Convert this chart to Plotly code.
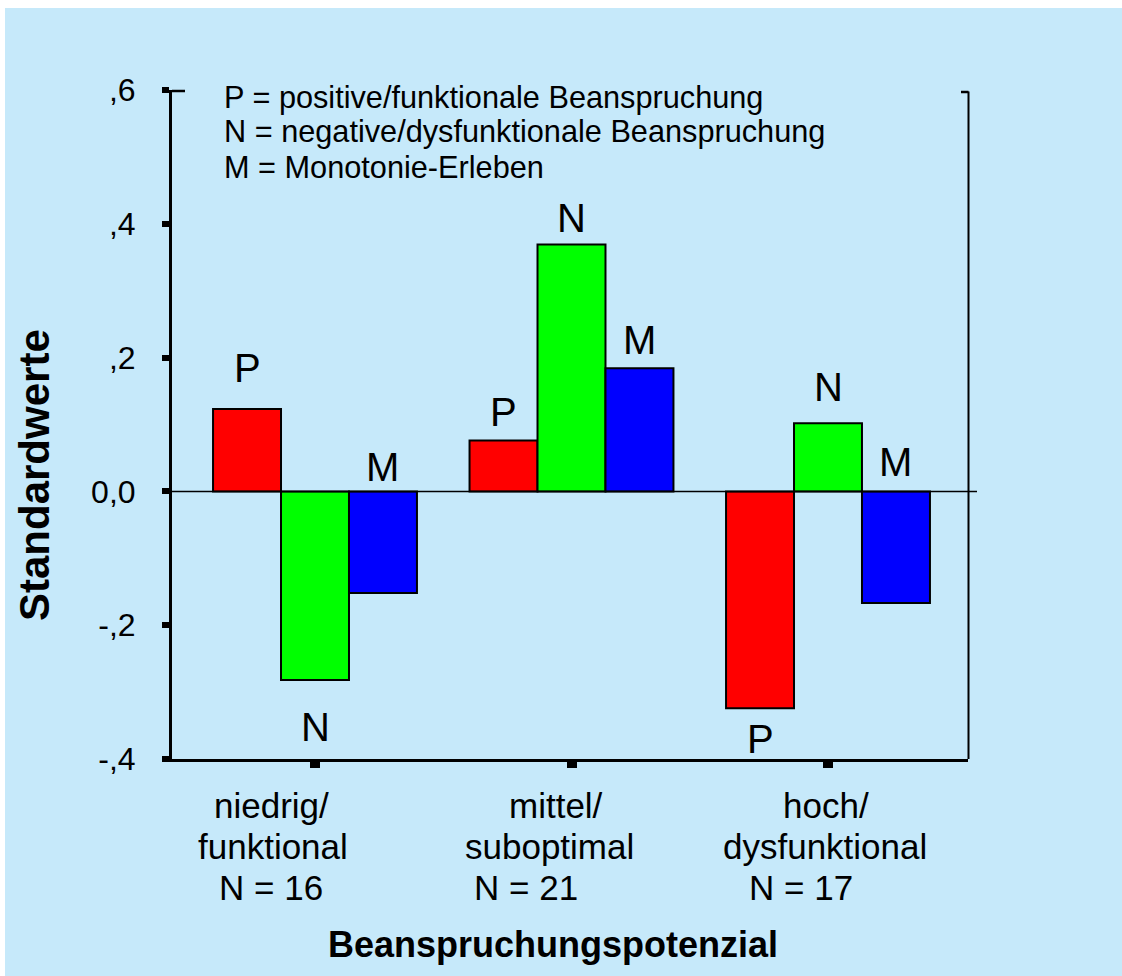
import plotly.graph_objects as go

# ---- data ----
category_lines = [["niedrig/", "funktional", "N = 16"],
                  ["mittel/", "suboptimal", "N = 21"],
                  ["hoch/", "dysfunktional", "N = 17"]]
categories = ["<br>".join(c) for c in category_lines]
series_names = ["P", "N", "M"]
p_values = [0.123, 0.076, -0.324]
n_values = [-0.282, 0.369, 0.102]
m_values = [-0.152, 0.184, -0.167]
y_tickvals = [-0.4, -0.2, 0.0, 0.2, 0.4, 0.6]
y_ticktext = ["-,4", "-,2", "0,0", ",2", ",4", ",6"]
legend_lines = ["P = positive/funktionale Beanspruchung",
                "N = negative/dysfunktionale Beanspruchung",
                "M = Monotonie-Erleben"]
x_title = "Beanspruchungspotenzial"
y_title = "Standardwerte"

# ---- styling ----
FONT = "Arial, Liberation Sans, sans-serif"
colors = ["#ff0000", "#00ff00", "#0000ff"]
bg = "#c6e9fa"
W, H = 1122, 976
# plot area in screen pixels: x 172..968, y 90..759
PL, PR, PT, PB = 172, 968, 90, 759
PW, PH = PR - PL, PB - PT
L, T = PL, PT
R, B = W - L - PW, H - T - PH
bargap = 0.205
bar_w = (1 - bargap) / 3

def px_x(p):
    return (p - PL) / PW

def px_y(p):
    return (PB - p) / PH

# label placement per series: anchor ("end" = bar end, "zero" = base) and pixel shift
label_anchor = [["end", "end", "end"], ["end", "end", "end"], ["zero", "end", "zero"]]
label_shift = [[-41, -29, 31], [47, -27, -36], [-24, -28, -29]]
# category label line centres (screen px)
cat_line_x = [[271, 273, 271], [556, 549, 526], [826, 825, 801]]
cat_line_y = [805, 846, 888]

all_values = [p_values, n_values, m_values]

fig = go.Figure()
for name, vals, col in zip(series_names, all_values, colors):
    fig.add_trace(go.Bar(x=categories, y=vals, name=name,
                         marker=dict(color=col, line=dict(color="black", width=2)),
                         showlegend=False))

annotations = []
for si, (name, vals) in enumerate(zip(series_names, all_values)):
    for ci, v in enumerate(vals):
        yref_val = v if label_anchor[si][ci] == "end" else 0.0
        annotations.append(dict(x=ci + (si - 1) * bar_w, y=yref_val, xref="x", yref="y",
                                text=name, showarrow=False, yanchor="middle",
                                yshift=-label_shift[si][ci],
                                font=dict(family=FONT, size=40, color="black")))

for ci, lines in enumerate(category_lines):
    for li, line in enumerate(lines):
        annotations.append(dict(x=px_x(cat_line_x[ci][li]), y=px_y(cat_line_y[li]),
                                xref="paper", yref="paper", text=line, showarrow=False,
                                xanchor="center", yanchor="middle",
                                font=dict(family=FONT, size=35, color="black")))

legend_y_px = [97, 132, 167]
for line, ypx in zip(legend_lines, legend_y_px):
    annotations.append(dict(x=px_x(222), y=px_y(ypx), xref="paper", yref="paper",
                            text=line, showarrow=False, xanchor="left", yanchor="middle",
                            font=dict(family=FONT, size=30.7, color="black")))

annotations.append(dict(x=px_x(34), y=px_y(475), xref="paper", yref="paper",
                        text="<b>%s</b>" % y_title, showarrow=False, textangle=-90,
                        xanchor="center", yanchor="middle",
                        font=dict(family=FONT, size=42, color="black")))
annotations.append(dict(x=px_x(553), y=px_y(945), xref="paper", yref="paper",
                        text="<b>%s</b>" % x_title, showarrow=False,
                        xanchor="center", yanchor="middle",
                        font=dict(family=FONT, size=36, color="black")))

right_x = px_x(968.5)
shapes = [
    # white border strips at top and left of the picture
    dict(type="rect", xref="paper", yref="paper", x0=px_x(-2), x1=px_x(W + 2), y0=px_y(8), y1=px_y(-2),
         fillcolor="white", line=dict(width=0), layer="above"),
    dict(type="rect", xref="paper", yref="paper", x0=px_x(-2), x1=px_x(5), y0=px_y(H + 2), y1=px_y(-2),
         fillcolor="white", line=dict(width=0), layer="above"),
    dict(type="line", xref="paper", yref="paper", x0=right_x, x1=right_x, y0=0, y1=px_y(91.5),
         line=dict(color="black", width=2)),
    dict(type="line", xref="paper", yref="paper", x0=px_x(961), x1=right_x, y0=px_y(92), y1=px_y(92),
         line=dict(color="black", width=2.5)),
    dict(type="line", xref="paper", yref="paper", x0=0, x1=px_x(185), y0=px_y(91), y1=px_y(91),
         line=dict(color="black", width=2.5)),
    dict(type="line", xref="paper", yref="y", x0=0, x1=px_x(977), y0=0, y1=0,
         line=dict(color="black", width=1.5)),
]

fig.update_layout(
    width=W, height=H,
    margin=dict(l=L, r=R, t=T, b=B, pad=0),
    paper_bgcolor=bg, plot_bgcolor="rgba(0,0,0,0)",
    barmode="group", bargap=bargap, bargroupgap=0,
    font=dict(family=FONT, color="black"),
    annotations=annotations, shapes=shapes,
)
fig.update_xaxes(range=[-0.5575, -0.5575 + PW / 256.5], showgrid=False, zeroline=False,
                 showline=True, linecolor="black", linewidth=2.5,
                 ticks="outside", ticklen=6, tickwidth=10, tickcolor="black",
                 showticklabels=False)
fig.update_yaxes(range=[-0.4, 0.6], tickvals=y_tickvals, ticktext=y_ticktext,
                 showgrid=False, zeroline=False,
                 showline=True, linecolor="black", linewidth=3,
                 ticks="outside", ticklen=7, tickwidth=6, tickcolor="black",
                 ticklabelstandoff=20,
                 tickfont=dict(family=FONT, size=32, color="black"))

fig.write_html("out.html", config={"displayModeBar": False},
               post_script="document.body.style.margin='0';document.body.style.overflow='hidden';")
